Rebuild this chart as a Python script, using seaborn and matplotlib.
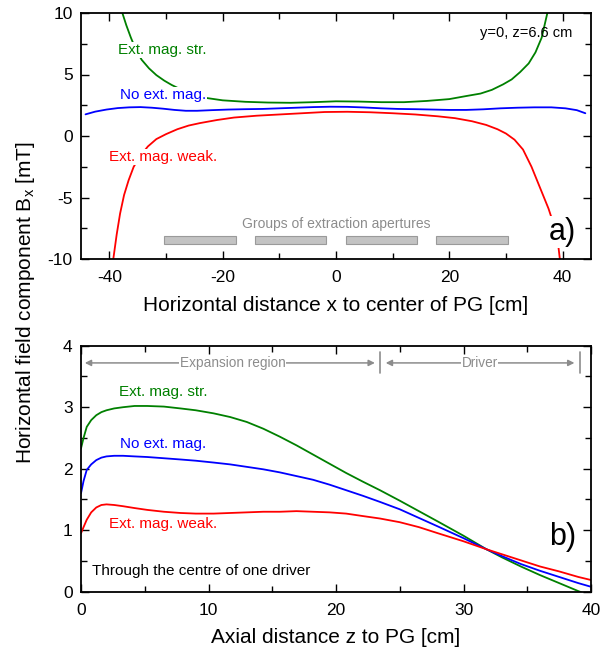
import matplotlib
matplotlib.use("Agg")
import matplotlib.pyplot as plt
import seaborn as sns
from matplotlib.ticker import MultipleLocator

# ---- panel a): Bx along x at y=0, z=6.6 cm ----
x_str = [-37.7, -37.0, -36.2, -35.3, -34.3, -33.0, -31.7, -30.3, -29.0, -27.0,
         -25.0, -23.0, -20.0, -16.0, -12.0, -8.0, -4.0, 0.0, 4.0, 8.0, 12.0,
         16.0, 20.0, 23.0, 25.5, 27.5, 29.5, 31.0, 32.5, 34.0, 35.2, 36.3, 37.3]
b_str = [10.0, 9.0, 8.0, 7.0, 6.2, 5.5, 4.95, 4.5, 4.15, 3.7,
         3.35, 3.1, 2.9, 2.78, 2.72, 2.7, 2.75, 2.82, 2.8, 2.75, 2.75,
         2.85, 3.0, 3.25, 3.45, 3.75, 4.2, 4.6, 5.2, 5.9, 6.8, 8.0, 10.0]

x_none = [-44.2, -42.5, -40.5, -38.5, -36.5, -34.5, -32.5, -30.5, -28.5, -26.5,
          -24.5, -22.0, -19.0, -16.0, -13.0, -10.0, -7.0, -4.0, -1.0, 2.0,
          5.0, 8.0, 11.0, 14.0, 17.0, 20.0, 23.0, 26.0, 29.0, 32.0, 35.0,
          38.0, 40.5, 42.5, 44.0]
b_none = [1.76, 1.98, 2.15, 2.27, 2.33, 2.35, 2.3, 2.22, 2.12, 2.05,
          2.05, 2.1, 2.15, 2.18, 2.2, 2.25, 2.3, 2.35, 2.38, 2.37,
          2.32, 2.25, 2.2, 2.18, 2.15, 2.12, 2.12, 2.17, 2.25, 2.3, 2.33,
          2.33, 2.25, 2.1, 1.85]

x_weak = [-39.3, -38.7, -38.1, -37.4, -36.6, -35.7, -34.5, -33.2, -31.7, -30.0,
          -28.0, -26.0, -24.0, -21.0, -18.0, -14.0, -10.0, -6.0, -2.0, 2.0,
          6.0, 10.0, 14.0, 18.0, 21.0, 24.0, 26.5, 28.5, 30.0, 31.5, 33.0,
          34.5, 36.0, 37.5, 38.5, 39.1, 39.5]
b_weak = [-10.0, -8.0, -6.3, -4.8, -3.6, -2.5, -1.6, -0.85, -0.25, 0.15,
          0.55, 0.85, 1.05, 1.3, 1.5, 1.65, 1.75, 1.85, 1.95, 1.97,
          1.93, 1.85, 1.75, 1.6, 1.45, 1.2, 0.9, 0.55, 0.2, -0.3, -1.1,
          -2.5, -4.2, -5.9, -7.3, -8.4, -10.0]

# extraction aperture groups (x ranges)
group_start = [-30.3, -14.3, 1.7, 17.7]
group_end = [-17.7, -1.7, 14.3, 30.3]

# ---- panel b): Bx along z through the centre of one driver ----
z = [0.0, 0.2, 0.45, 0.8, 1.2, 1.6, 2.0, 2.6, 3.3, 4.2, 5.2, 6.5, 7.8, 9.0,
     10.4, 11.7, 13.0, 14.3, 15.6, 16.9, 18.2, 19.5, 20.8, 22.1, 23.45, 25.0,
     26.5, 28.0, 30.0, 31.8, 33.0, 34.5, 36.0, 37.5, 39.0, 40.0]
bz_str = [2.33, 2.5, 2.68, 2.79, 2.87, 2.92, 2.95, 2.98, 3.0, 3.02, 3.02, 3.01,
          2.98, 2.95, 2.9, 2.84, 2.76, 2.65, 2.52, 2.38, 2.23, 2.08, 1.93, 1.79,
          1.65, 1.48, 1.31, 1.14, 0.91, 0.69, 0.56, 0.41, 0.27, 0.14, 0.01, -0.07]
bz_none = [1.6, 1.8, 1.98, 2.07, 2.14, 2.18, 2.2, 2.21, 2.21, 2.2, 2.19, 2.17,
           2.15, 2.13, 2.1, 2.07, 2.03, 1.99, 1.94, 1.88, 1.82, 1.74, 1.65, 1.56,
           1.46, 1.34, 1.2, 1.06, 0.87, 0.69, 0.58, 0.45, 0.34, 0.24, 0.14, 0.08]
bz_weak = [0.95, 1.05, 1.17, 1.29, 1.37, 1.41, 1.42, 1.41, 1.39, 1.36, 1.33, 1.3,
           1.28, 1.27, 1.27, 1.28, 1.29, 1.3, 1.3, 1.31, 1.3, 1.29, 1.27, 1.23,
           1.19, 1.13, 1.05, 0.95, 0.82, 0.69, 0.61, 0.51, 0.41, 0.33, 0.24, 0.19]

# regions along z
expansion_end = 23.45
driver_end = 39.1

GREEN = "#008000"
BLUE = "#0000ff"
RED = "#ff0000"
GRAY = "#8c8c8c"

sns.set_theme(style="ticks")
plt.rcParams["font.family"] = ["Liberation Sans", "DejaVu Sans"]
plt.rcParams["axes.unicode_minus"] = False
plt.rcParams["text.color"] = "black"
plt.rcParams["axes.labelcolor"] = "black"
plt.rcParams["xtick.color"] = "black"
plt.rcParams["ytick.color"] = "black"
plt.rcParams["axes.edgecolor"] = "black"

fig = plt.figure(figsize=(6.03, 6.51), dpi=100)
W, H = 603.0, 651.0
ax1 = fig.add_axes([81 / W, 1 - 259 / H, 510 / W, 246 / H])
ax2 = fig.add_axes([81 / W, 1 - 591.7 / H, 510 / W, 246 / H])

lw = 1.3
for xs, ys, c in [(x_str, b_str, GREEN), (x_none, b_none, BLUE), (x_weak, b_weak, RED)]:
    sns.lineplot(x=xs, y=ys, ax=ax1, color=c, lw=lw, sort=False, estimator=None)
for ys, c in [(bz_str, GREEN), (bz_none, BLUE), (bz_weak, RED)]:
    sns.lineplot(x=z, y=ys, ax=ax2, color=c, lw=lw, sort=False, estimator=None)

# aperture group bars
widths = [e - s for s, e in zip(group_start, group_end)]
ax1.barh(y=[-8.44] * 4, width=widths, left=group_start, height=0.62,
         color="#c3c3c3", edgecolor="#9a9a9a", linewidth=0.8, zorder=2)
ax1.text(0, -7.15, "Groups of extraction apertures", color=GRAY, fontsize=10,
         ha="center", va="center")

box = dict(facecolor="white", edgecolor="none", pad=1.0)
ax1.text(-38.5, 7.0, "Ext. mag. str.", color=GREEN, fontsize=11, ha="left",
         va="center", bbox=box, zorder=5)
ax1.text(-38.2, 3.33, "No ext. mag.", color=BLUE, fontsize=11, ha="left",
         va="center", bbox=box, zorder=5)
ax1.text(-40.1, -1.7, "Ext. mag. weak.", color=RED, fontsize=11, ha="left",
         va="center", bbox=box, zorder=5)
ax1.text(25.4, 8.37, "y=0, z=6.6 cm", color="black", fontsize=10.5, ha="left",
         va="center", zorder=5)
ax1.text(40.0, -7.8, "a)", color="black", fontsize=22, ha="center", va="center",
         bbox=dict(facecolor="white", edgecolor="none", pad=0.5), zorder=5)

ax2.text(2.98, 3.24, "Ext. mag. str.", color=GREEN, fontsize=11, ha="left", va="center")
ax2.text(3.06, 2.40, "No ext. mag.", color=BLUE, fontsize=11, ha="left", va="center")
ax2.text(2.2, 1.10, "Ext. mag. weak.", color=RED, fontsize=11, ha="left", va="center")
ax2.text(0.84, 0.34, "Through the centre of one driver", color="black", fontsize=11,
         ha="left", va="center")
ax2.text(37.8, 0.89, "b)", color="black", fontsize=22, ha="center", va="center")

# region arrows
ya = 3.72
arrow = dict(arrowstyle="<|-|>", color=GRAY, lw=1.1, shrinkA=0, shrinkB=0,
             mutation_scale=9)
ax2.annotate("", xy=(0.3, ya), xytext=(expansion_end - 0.4, ya), arrowprops=arrow)
ax2.annotate("", xy=(expansion_end + 0.45, ya), xytext=(driver_end - 0.4, ya),
             arrowprops=arrow)
for zb in (expansion_end, driver_end):
    ax2.plot([zb, zb], [3.55, 3.9], color=GRAY, lw=1.2)
tbox = dict(facecolor="white", edgecolor="none", pad=0.3)
ax2.text((0.3 + expansion_end) / 2, ya, "Expansion region", color=GRAY, fontsize=9.8,
         ha="center", va="center", bbox=tbox)
ax2.text((expansion_end + driver_end) / 2, ya, "Driver", color=GRAY, fontsize=9.8,
         ha="center", va="center", bbox=tbox)

ax1.set_xlim(-45, 45)
ax1.set_ylim(-10, 10)
ax1.xaxis.set_major_locator(MultipleLocator(20))
ax1.xaxis.set_minor_locator(MultipleLocator(10))
ax1.yaxis.set_major_locator(MultipleLocator(5))
ax1.yaxis.set_minor_locator(MultipleLocator(2.5))

ax2.set_xlim(0, 40)
ax2.set_ylim(0, 4)
ax2.xaxis.set_major_locator(MultipleLocator(10))
ax2.xaxis.set_minor_locator(MultipleLocator(5))
ax2.yaxis.set_major_locator(MultipleLocator(1))
ax2.yaxis.set_minor_locator(MultipleLocator(0.5))

for ax in (ax1, ax2):
    ax.tick_params(which="both", direction="in", top=True, right=True,
                   labelsize=12.5, width=1.0)
    ax.tick_params(axis="x", pad=8)
    ax.tick_params(axis="y", pad=6)
    ax.tick_params(which="major", length=6)
    ax.tick_params(which="minor", length=4)
    for sp in ax.spines.values():
        sp.set_linewidth(1.3)
        sp.set_color("black")
    ax.set_ylabel("")

ax1.set_xlabel("Horizontal distance x to center of PG [cm]", fontsize=15, labelpad=8)
ax2.set_xlabel("Axial distance z to PG [cm]", fontsize=15, labelpad=7)
fig.text(26 / W, 1 - 303 / H, r"Horizontal field component B$_\mathregular{x}$ [mT]",
         rotation=90, fontsize=15, ha="center", va="center")

fig.savefig("out.png", dpi=100)
